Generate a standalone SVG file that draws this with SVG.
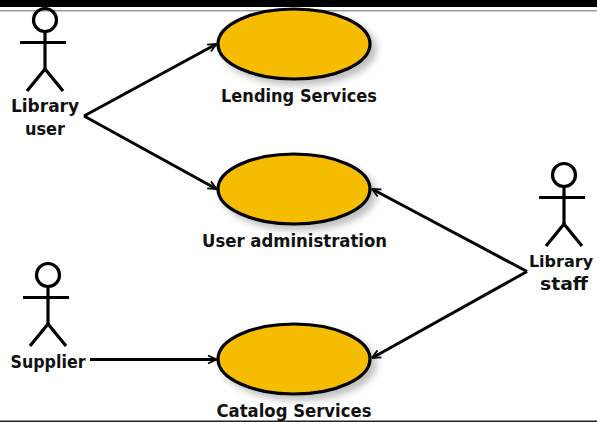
<svg xmlns="http://www.w3.org/2000/svg" width="597" height="422" viewBox="0 0 597 422">
<style>
text{font-family:"DejaVu Sans","Liberation Sans",sans-serif;font-weight:700;font-size:17px;fill:#111;text-anchor:middle}
.uc{fill:#f5bc00;stroke:#000;stroke-width:3.2;filter:url(#sh)}
.actor{fill:none;stroke:#000;stroke-width:3.2}
.actor .leg{stroke-width:2.6}
.conn{fill:none;stroke:#000;stroke-width:3;marker-end:url(#arr)}
</style>
<defs>
<marker id="arr" viewBox="0 0 10 10" refX="9.500" refY="5" markerUnits="userSpaceOnUse" markerWidth="10" markerHeight="10" orient="auto"><path d="M1 1L9.500 5L1 9" fill="none" stroke="#000" stroke-width="1.800"/></marker>
<filter id="sh" x="-15%" y="-20%" width="135%" height="150%"><feGaussianBlur in="SourceAlpha" stdDeviation="3.500"/><feOffset dx="5" dy="5"/><feComponentTransfer><feFuncA type="linear" slope="0.25"/></feComponentTransfer><feMerge><feMergeNode/><feMergeNode in="SourceGraphic"/></feMerge></filter>
<g id="stick"><circle cx="0" cy="20" r="11.500"/><path d="M0 31.500V69M-25 42.500H21"/><path class="leg" d="M0 69L-18 91M0 69L18 91"/></g>
</defs>
<rect width="597" height="422" fill="#fff"/>
<rect id="top-bar" width="597" height="7" fill="#000"/>
<rect id="top-rule" y="10" width="597" height="1.500" fill="#999"/>
<rect id="bottom-rule" y="420.500" width="597" height="1.500" fill="#222"/>
<g id="connectors">
<path class="conn" d="M84 116L216.500 44"/>
<path class="conn" d="M84 116L216.500 189"/>
<path class="conn" d="M90 359.500H216.500"/>
<path class="conn" d="M527 271.500L372 189"/>
<path class="conn" d="M527 271.500L372 358"/>
</g>
<g id="uc-lending"><ellipse class="uc" cx="294" cy="44" rx="76" ry="35"/><text x="299" y="102" textLength="156" lengthAdjust="spacingAndGlyphs">Lending Services</text></g>
<g id="uc-admin"><ellipse class="uc" cx="294" cy="189" rx="76" ry="35"/><text x="294.500" y="247" textLength="185" lengthAdjust="spacingAndGlyphs">User administration</text></g>
<g id="uc-catalog"><ellipse class="uc" cx="294" cy="359" rx="76" ry="35"/><text x="294" y="417" textLength="155" lengthAdjust="spacingAndGlyphs">Catalog Services</text></g>
<g id="actor-library-user"><use href="#stick" class="actor" x="45" y="0"/><text x="45" y="112" textLength="68" lengthAdjust="spacingAndGlyphs">Library</text><text x="45" y="135" textLength="40" lengthAdjust="spacingAndGlyphs">user</text></g>
<g id="actor-library-staff"><use href="#stick" class="actor" x="564" y="155"/><text x="561" y="267" style="font-size:16px">Library</text><text x="564" y="290" textLength="48" lengthAdjust="spacingAndGlyphs">staff</text></g>
<g id="actor-supplier"><use href="#stick" class="actor" x="48" y="255"/><text x="48" y="368" textLength="75" lengthAdjust="spacingAndGlyphs">Supplier</text></g>
</svg>
